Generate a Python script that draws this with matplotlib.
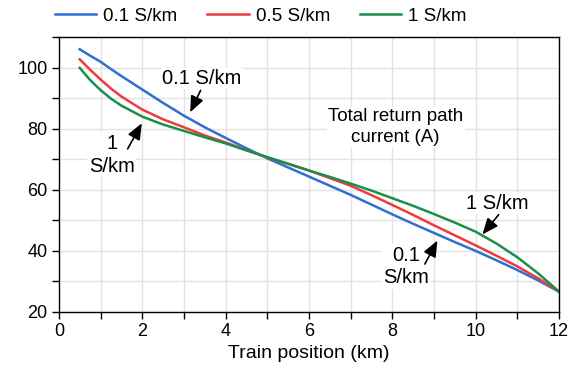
import matplotlib
matplotlib.use("Agg")
import matplotlib.pyplot as plt
from matplotlib.ticker import MultipleLocator

plt.rcParams['font.family'] = ['Liberation Sans', 'DejaVu Sans']

# train position along the line (km)
position_km = [0.5, 0.75, 1.0, 1.25, 1.5, 2.0, 2.5, 3.0, 3.5, 4.0, 4.5, 5.0, 5.5, 6.0,
               6.5, 7.0, 7.5, 8.0, 8.5, 9.0, 9.5, 10.0, 10.5, 11.0, 11.5, 12.0]

# total return path current (A) for each earth conductance
current_01 = [106.1, 104.0, 102.0, 99.6, 97.3, 92.9, 88.5, 84.3, 80.5, 77.0, 73.6, 70.3,
              67.3, 64.3, 61.3, 58.3, 55.1, 51.9, 48.8, 45.8, 42.8, 39.9, 36.8, 33.6,
              30.2, 26.5]
current_05 = [102.8, 99.4, 96.2, 93.2, 90.6, 86.3, 83.1, 80.5, 77.8, 75.5, 73.0, 70.6,
              68.5, 66.3, 63.8, 61.3, 58.2, 55.0, 51.7, 48.3, 45.0, 41.7, 38.3, 34.8,
              30.9, 26.5]
current_1 = [100.0, 96.0, 92.7, 89.9, 87.6, 84.0, 81.4, 79.3, 77.2, 75.2, 72.9, 70.7,
             68.5, 66.3, 64.2, 62.0, 59.7, 57.2, 54.7, 52.0, 49.2, 46.2, 42.3, 37.8,
             32.5, 26.5]

series_labels = ['0.1 S/km', '0.5 S/km', '1 S/km']
series_colors = ['#2E6FD2', '#EE3B3B', '#18904A']

fig = plt.figure(figsize=(5.77, 3.74), dpi=100)
ax = fig.add_axes([0.102, 0.167, 0.867, 0.733])

for y, lab, col in zip([current_01, current_05, current_1], series_labels, series_colors):
    ax.plot(position_km, y, color=col, lw=1.8, label=lab)

ax.set_xlim(0, 12)
ax.set_ylim(20, 110)
ax.xaxis.set_major_locator(MultipleLocator(2))
ax.xaxis.set_minor_locator(MultipleLocator(1))
ax.yaxis.set_major_locator(MultipleLocator(20))
ax.yaxis.set_minor_locator(MultipleLocator(10))
ax.grid(True, which='both', color='#E3E3E3', lw=1)
ax.set_axisbelow(True)
ax.tick_params(which='both', direction='out', length=5, width=1, labelsize=13,
               top=False, right=False, pad=3)
for s in ax.spines.values():
    s.set_linewidth(1)
ax.set_xlabel('Train position (km)', fontsize=14, labelpad=4)

box = dict(facecolor='white', edgecolor='none', pad=1)
arrow = dict(arrowstyle='-|>,head_length=0.65,head_width=0.27', color='black', lw=1.2,
             mutation_scale=15, shrinkA=0, shrinkB=0)
note_size = 14.5

ax.text(8.08, 80.6, 'Total return path\ncurrent (A)', ha='center', va='center',
        fontsize=13.5, bbox=box, linespacing=1.3)
ax.text(3.43, 96.5, '0.1 S/km', ha='center', va='center', fontsize=note_size, bbox=box)
ax.text(1.27, 71.4, '1\nS/km', ha='center', va='center', fontsize=note_size, bbox=box,
        linespacing=1.25)
ax.text(10.52, 55.5, '1 S/km', ha='center', va='center', fontsize=note_size, bbox=box)
ax.text(8.32, 34.8, '0.1\nS/km', ha='center', va='center', fontsize=note_size, bbox=box,
        linespacing=1.25)

# arrows drawn above the label boxes
ax.annotate('', xy=(3.15, 85.4), xytext=(3.40, 92.6), arrowprops=arrow, zorder=6)
ax.annotate('', xy=(1.99, 81.8), xytext=(1.65, 73.4), arrowprops=arrow, zorder=6)
ax.annotate('', xy=(10.16, 45.3), xytext=(10.55, 51.8), arrowprops=arrow, zorder=6)
ax.annotate('', xy=(9.08, 43.3), xytext=(8.78, 35.6), arrowprops=arrow, zorder=6)

fig.legend(loc='center', bbox_to_anchor=(0.452, 0.957), ncol=3, frameon=False,
           fontsize=13.5, handlelength=2.2, columnspacing=1.6, handletextpad=0.37)

fig.savefig('out.png', dpi=100)
